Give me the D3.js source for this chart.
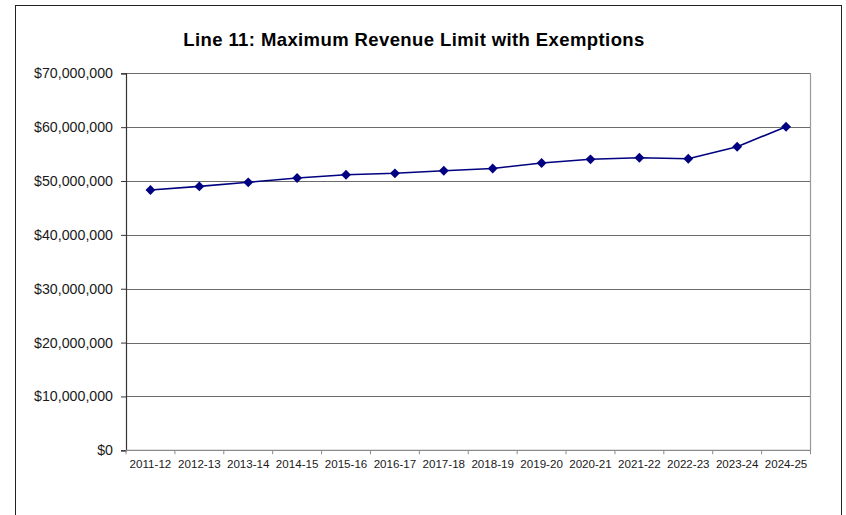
<!DOCTYPE html>
<html>
<head>
<meta charset="utf-8">
<script src="https://cdn.jsdelivr.net/npm/d3@7"></script>
<style>
  html, body { margin: 0; padding: 0; background: #ffffff; }
  svg { display: block; }
</style>
</head>
<body>
<svg id="chart" width="846" height="515"></svg>
<script>
// Fiscal years on the x axis
const years = ["2011-12", "2012-13", "2013-14", "2014-15", "2015-16", "2016-17", "2017-18",
               "2018-19", "2019-20", "2020-21", "2021-22", "2022-23", "2023-24", "2024-25"];
// Maximum revenue limit with exemptions, dollars
const revenueLimit = [48330000, 49000000, 49760000, 50560000, 51170000, 51430000, 51910000,
                      52330000, 53340000, 54030000, 54330000, 54140000, 56370000, 60080000];
// Y axis tick values
const yTicks = [0, 10000000, 20000000, 30000000, 40000000, 50000000, 60000000, 70000000];
const titleText = "Line 11: Maximum Revenue Limit with Exemptions";

const svg = d3.select("#chart");
const font = "'Liberation Sans', Arial, sans-serif";

// Outer chart frame
svg.append("rect")
  .attr("x", 15.5).attr("y", 5.5)
  .attr("width", 826).attr("height", 520)
  .attr("fill", "#ffffff")
  .attr("stroke", "#222222")
  .attr("stroke-width", 1);

const plot = { left: 126, right: 810.5, top: 73.3, bottom: 450.3 };

const x = d3.scaleBand().domain(years).range([plot.left, plot.right]);
const y = d3.scaleLinear().domain([0, 70000000]).range([plot.bottom, plot.top]);

// Title
svg.append("text")
  .attr("x", 414).attr("y", 46)
  .attr("text-anchor", "middle")
  .attr("font-family", font)
  .attr("font-weight", "bold")
  .attr("font-size", 18.5)
  .attr("letter-spacing", 0.4)
  .attr("fill", "#000000")
  .text(titleText);

// Horizontal gridlines
svg.append("g")
  .selectAll("line")
  .data(yTicks.filter(d => d > 0))
  .join("line")
  .attr("x1", plot.left).attr("x2", plot.right)
  .attr("y1", d => Math.round(y(d)) + 0.5).attr("y2", d => Math.round(y(d)) + 0.5)
  .attr("stroke", "#6b6b6b")
  .attr("stroke-width", 1);

// Right edge of plot area
svg.append("line")
  .attr("x1", plot.right).attr("x2", plot.right)
  .attr("y1", plot.top).attr("y2", plot.bottom)
  .attr("stroke", "#9a9a9a").attr("stroke-width", 1.2);

// Y axis
const yAxis = d3.axisLeft(y)
  .tickValues(yTicks)
  .tickSize(5)
  .tickPadding(8)
  .tickFormat(d => "$" + d3.format(",")(d));
const yg = svg.append("g")
  .attr("transform", `translate(${plot.left},0)`)
  .call(yAxis);
yg.select(".domain").attr("stroke", "#333333").attr("stroke-width", 1.2);
yg.selectAll(".tick line").attr("stroke", "#333333");
yg.selectAll(".tick text")
  .attr("font-family", font)
  .attr("font-size", 14.2)
  .attr("fill", "#1a1a1a");

// X axis with ticks at category boundaries
const xg = svg.append("g")
  .attr("transform", `translate(0,${plot.bottom})`);
xg.append("line")
  .attr("x1", plot.left).attr("x2", plot.right)
  .attr("y1", 0).attr("y2", 0)
  .attr("stroke", "#8a8a8a").attr("stroke-width", 1.2);
const bounds = years.map(d => x(d)).concat([plot.right]);
xg.selectAll("line.bt")
  .data(bounds)
  .join("line")
  .attr("class", "bt")
  .attr("x1", d => d).attr("x2", d => d)
  .attr("y1", 0).attr("y2", 4)
  .attr("stroke", "#8a8a8a");
xg.selectAll("text")
  .data(years)
  .join("text")
  .attr("x", d => x(d) + x.bandwidth() / 2)
  .attr("y", 18)
  .attr("text-anchor", "middle")
  .attr("font-family", font)
  .attr("font-size", 11.6)
  .attr("fill", "#1a1a1a")
  .text(d => d);

// Revenue line
const line = d3.line()
  .x((d, i) => x(years[i]) + x.bandwidth() / 2)
  .y(d => y(d));
svg.append("path")
  .datum(revenueLimit)
  .attr("d", line)
  .attr("fill", "none")
  .attr("stroke", "#000080")
  .attr("stroke-width", 1.6);

// Diamond markers
const diamond = d3.symbol().type(d3.symbolDiamond2).size(62);
svg.append("g")
  .selectAll("path")
  .data(revenueLimit)
  .join("path")
  .attr("transform", (d, i) => `translate(${x(years[i]) + x.bandwidth() / 2},${y(d)})`)
  .attr("d", diamond)
  .attr("fill", "#000080");
</script>
</body>
</html>
